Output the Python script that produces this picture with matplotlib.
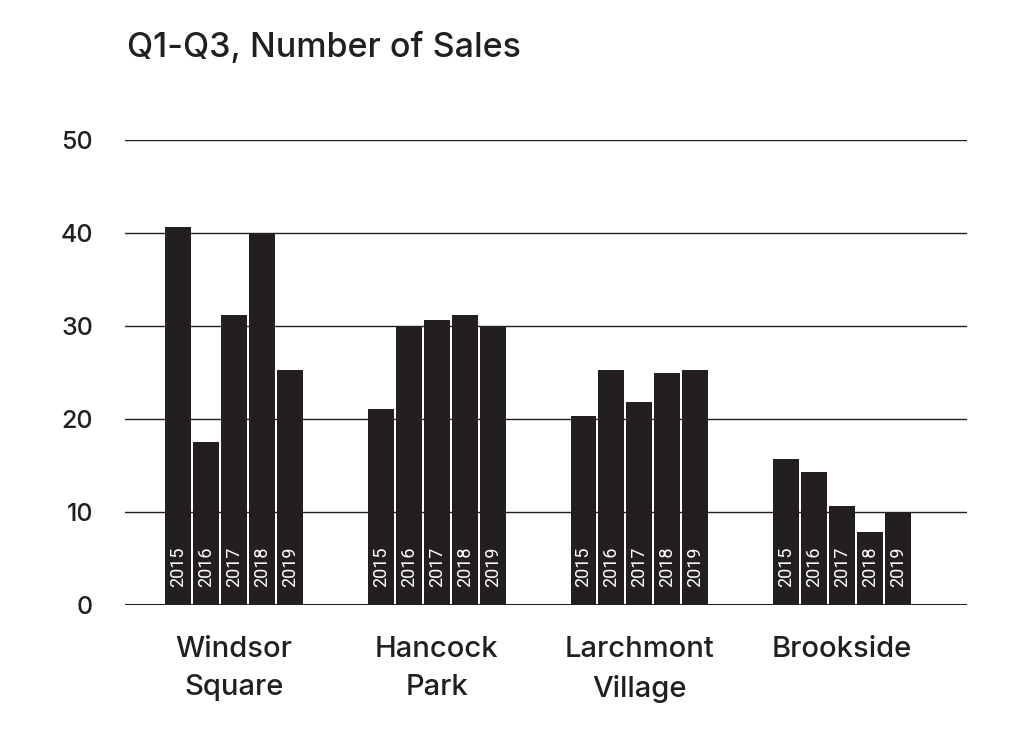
import matplotlib
matplotlib.use("Agg")
import matplotlib.pyplot as plt
import numpy as np

neighborhoods = ["Windsor\nSquare", "Hancock\nPark", "Larchmont\nVillage", "Brookside"]
years = ["2015", "2016", "2017", "2018", "2019"]
sales = {
    "Windsor\nSquare": [40.6, 17.5, 31.2, 40.0, 25.3],
    "Hancock\nPark": [21.1, 30.0, 30.6, 31.2, 30.0],
    "Larchmont\nVillage": [20.3, 25.3, 21.8, 24.9, 25.3],
    "Brookside": [15.7, 14.3, 10.6, 7.9, 10.0],
}
yticks = [0, 10, 20, 30, 40, 50]

BAR = "#231f20"
FONT = "Inter"
fig = plt.figure(figsize=(10.18, 7.44), dpi=100)
ax = fig.add_axes([125/1018, (744-605)/744, (967-125)/1018, (605-140)/744])

step = 0.138
width = 0.128
for gi, name in enumerate(neighborhoods):
    vals = sales[name]
    for yi, (yr, v) in enumerate(zip(years, vals)):
        x = gi + (yi - 2) * step
        ax.bar(x, v, width=width, color=BAR, zorder=3)
        ax.text(x, 1.9, yr, rotation=90, ha="center", va="bottom",
                color="white", fontsize=13, family=["Liberation Sans Narrow", "Roboto"], zorder=4)

ax.set_xlim(-0.538, 3.616)
ax.set_ylim(0, 50)
for t in yticks[1:]:
    ax.axhline(t, color=BAR, lw=1.0, zorder=1)
ax.axhline(0, color=BAR, lw=2.2, zorder=5)

ax.set_yticks(yticks)
ax.set_yticklabels([str(t) for t in yticks], fontsize=18, family=FONT, fontweight=500, color=BAR)
ax.tick_params(axis="y", length=0, pad=23)
ax.set_xticks(range(len(neighborhoods)))
ax.set_xticklabels(neighborhoods, fontsize=21, family=FONT, fontweight=500, color=BAR, linespacing=1.55)
ax.tick_params(axis="x", length=0, pad=22)
for s in ax.spines.values():
    s.set_visible(False)

fig.text(127/1018, 1 - 57/744, "Q1-Q3, Number of Sales", fontsize=24.5, family=FONT,
         fontweight=500, color=BAR, ha="left", va="baseline")

fig.savefig("out.png", dpi=100, facecolor="white")
